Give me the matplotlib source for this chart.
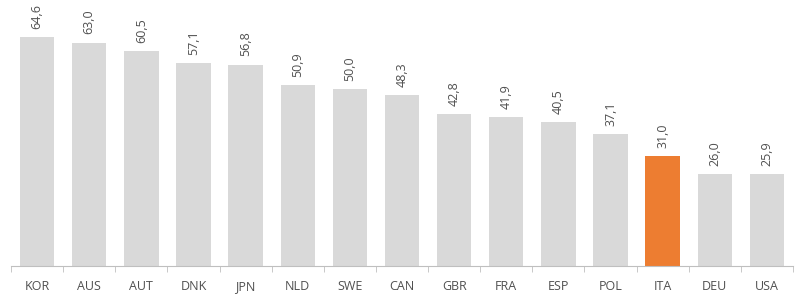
import numpy as np
import matplotlib
matplotlib.use('Agg')
import matplotlib.pyplot as plt

countries = ['KOR', 'AUS', 'AUT', 'DNK', 'JPN', 'NLD', 'SWE', 'CAN', 'GBR', 'FRA',
             'ESP', 'POL', 'ITA', 'DEU', 'USA']
values = [64.6, 63.0, 60.5, 57.1, 56.8, 50.9, 50.0, 48.3, 42.8, 41.9,
          40.5, 37.1, 31.0, 26.0, 25.9]
highlight = 'ITA'

plt.rcParams['font.family'] = ['Open Sans', 'DejaVu Sans']

fig = plt.figure(figsize=(8, 2.98), dpi=100)
ax = fig.add_axes([11 / 800, 32 / 298, 782 / 800, 266 / 298])

x = np.arange(len(countries))
colors = ['#ed7d31' if c == highlight else '#d9d9d9' for c in countries]
ax.bar(x, values, width=0.66, color=colors)

for xi, v in zip(x, values):
    ax.text(xi, v + 2.3, f'{v:.1f}'.replace('.', ','), rotation=90,
            ha='center', va='bottom', fontsize=9, color='#505050')

ax.set_xlim(-0.5, len(countries) - 0.5)
ax.set_ylim(0, 75)
ax.set_yticks([])
for s in ['top', 'right', 'left']:
    ax.spines[s].set_visible(False)
ax.spines['bottom'].set_color('#bfbfbf')

ax.set_xticks(x)
ax.set_xticklabels(countries, fontsize=9, color='#505050')
ax.tick_params(axis='x', which='major', length=0, pad=10)
ax.set_xticks(np.arange(len(countries) + 1) - 0.5, minor=True)
ax.tick_params(axis='x', which='minor', length=4, color='#bfbfbf', direction='out')

fig.savefig('out.png', dpi=100)
